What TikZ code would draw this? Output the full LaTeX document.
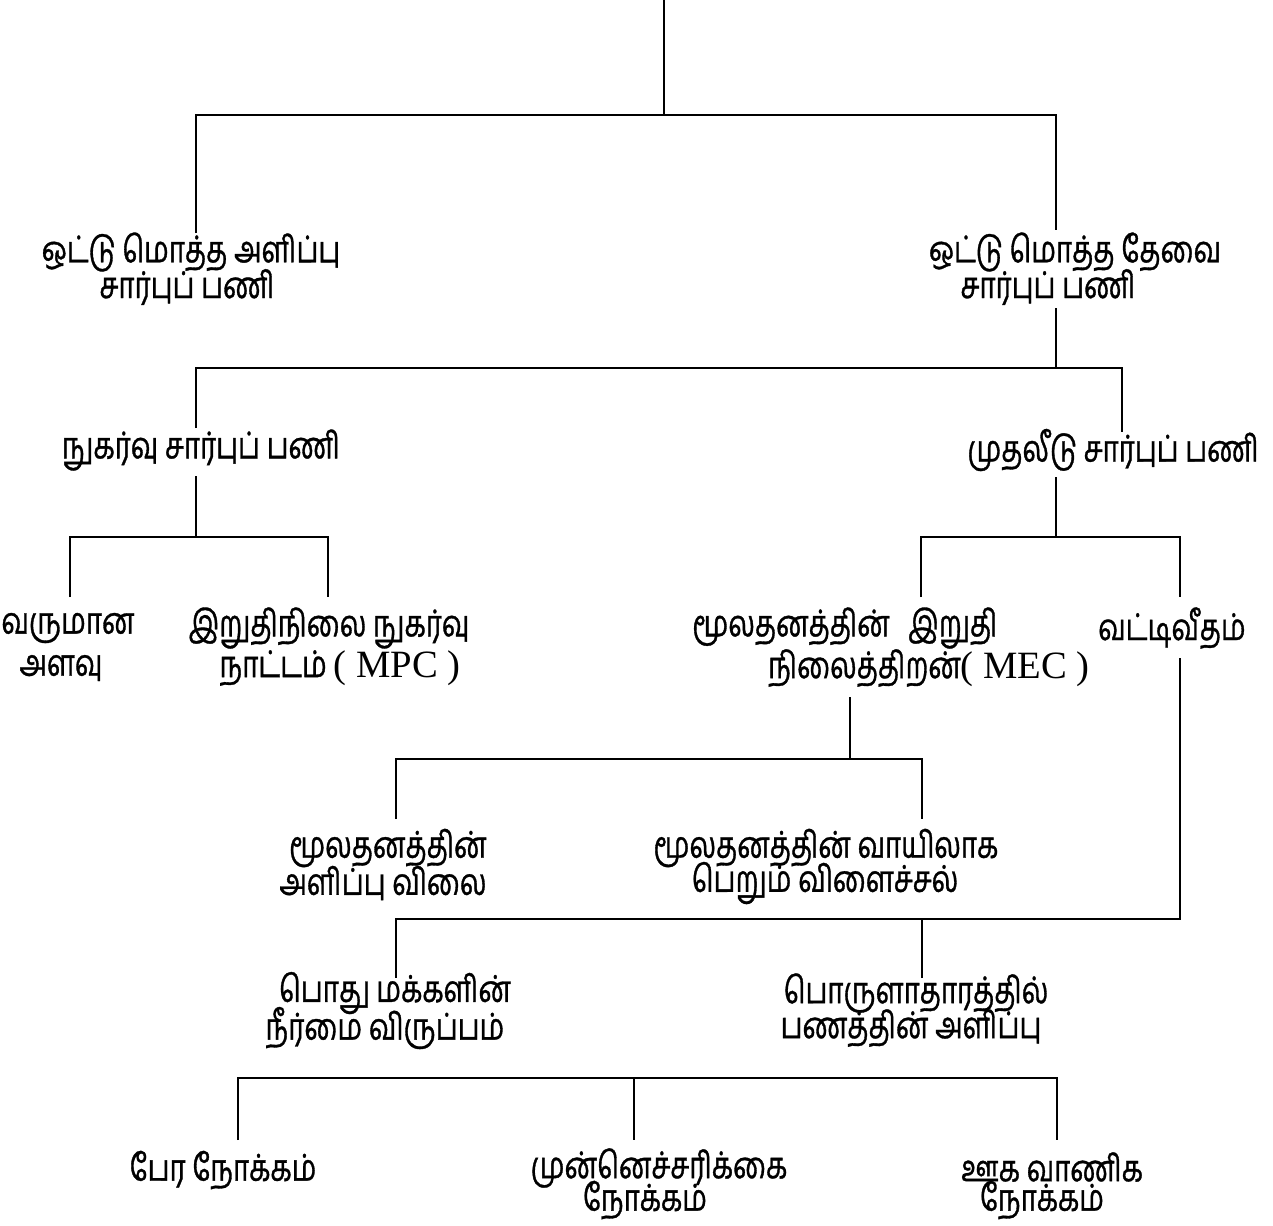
\documentclass[tikz,border=0pt]{standalone}
\usepackage{fontspec}
\newfontfamily\tam[Script=Tamil, FakeStretch=0.75, UprightFeatures={FakeBold=0.9}]{Hind Madurai}
\newfontfamily\lat{Liberation Serif}
\newcommand{\latin}[1]{{\lat\fontsize{22}{24}\selectfont #1}}
\begin{document}
\begin{tikzpicture}[x=0.02cm,y=-0.02cm,
  lbl/.style={font=\tam\fontsize{21}{24}\selectfont, inner sep=0pt, anchor=center},
  conn/.style={line width=1pt, black}]
\useasboundingbox (0,0) rectangle (1273,1225);
% labels
\node[lbl] (a1) at (191,252) {ஒட்டு மொத்த அளிப்பு};
\node[lbl] (a2) at (187,287) {சார்புப் பணி};
\node[lbl] (b1) at (1075,252) {ஒட்டு மொத்த தேவை};
\node[lbl] (b2) at (1048,287) {சார்புப் பணி};
\node[lbl] (c1) at (201,450) {நுகர்வு சார்புப் பணி};
\node[lbl] (d1) at (1113,450) {முதலீடு சார்புப் பணி};
\node[lbl] (e1) at (68,628) {வருமான};
\node[lbl] (e2) at (61,668) {அளவு};
\node[lbl] (f1) at (329,628) {இறுதிநிலை நுகர்வு};
\node[lbl] (f2) at (340,668) {நாட்டம் \latin{( MPC )}};
\node[lbl] (g1) at (845,628) {மூலதனத்தின்\hspace{0.5em}இறுதி};
\node[lbl] (g2) at (929,668) {நிலைத்திறன்\latin{( MEC )}};
\node[lbl] (h1) at (1172,628) {வட்டிவீதம்};
\node[lbl] (i1) at (388,848) {மூலதனத்தின்};
\node[lbl] (i2) at (383,883) {அளிப்பு விலை};
\node[lbl] (k1) at (826,848) {மூலதனத்தின் வாயிலாக};
\node[lbl] (k2) at (825,883) {பெறும் விளைச்சல்};
\node[lbl] (m1) at (395,993) {பொது மக்களின்};
\node[lbl] (m2) at (385,1028) {நீர்மை விருப்பம்};
\node[lbl] (n1) at (916,993) {பொருளாதாரத்தில்};
\node[lbl] (n2) at (911,1028) {பணத்தின் அளிப்பு};
\node[lbl] (p1) at (223,1170) {பேர நோக்கம்};
\node[lbl] (q1) at (659,1168) {முன்னெச்சரிக்கை};
\node[lbl] (q2) at (645,1200) {நோக்கம்};
\node[lbl] (r1) at (1052,1167) {ஊக வாணிக};
\node[lbl] (r2) at (1042,1200) {நோக்கம்};
% coordinates
\coordinate (top) at (664,0);
\coordinate (j1) at (664,115);
\coordinate (aT) at (196,233);
\coordinate (bT) at (1056,230);
\coordinate (bB) at (1056,308);
\coordinate (j2) at (1056,368);
\coordinate (cT) at (196,428);
\coordinate (dT) at (1122,432);
\coordinate (cB) at (196,476);
\coordinate (j3) at (196,537);
\coordinate (eT) at (70,597);
\coordinate (fT) at (328,597);
\coordinate (dB) at (1056,477);
\coordinate (j4) at (1056,537);
\coordinate (gT) at (921,597);
\coordinate (hT) at (1180,597);
\coordinate (gB) at (850,697);
\coordinate (j5) at (850,759);
\coordinate (iT) at (396,819);
\coordinate (kT) at (922,819);
\coordinate (hB) at (1180,658);
\coordinate (j6) at (1180,919);
\coordinate (mT) at (396,978);
\coordinate (nT) at (922,978);
\coordinate (pT) at (238,1140);
\coordinate (qT) at (634,1140);
\coordinate (rT) at (1057,1140);
\coordinate (j7) at (634,1078);
% connectors
\draw[conn] (top) -- (j1);
\draw[conn] (aT) |- (j1) -| (bT);
\draw[conn] (bB) -- (j2);
\draw[conn] (cT) |- (j2) -| (dT);
\draw[conn] (cB) -- (j3);
\draw[conn] (eT) |- (j3) -| (fT);
\draw[conn] (dB) -- (j4);
\draw[conn] (gT) |- (j4) -| (hT);
\draw[conn] (gB) -- (j5);
\draw[conn] (iT) |- (j5) -| (kT);
\draw[conn] (hB) -- (j6) -| (mT);
\draw[conn] (nT) -- (nT |- j6);
\draw[conn] (pT) |- (j7) -| (rT);
\draw[conn] (j7) -- (qT);
\end{tikzpicture}
\end{document}
